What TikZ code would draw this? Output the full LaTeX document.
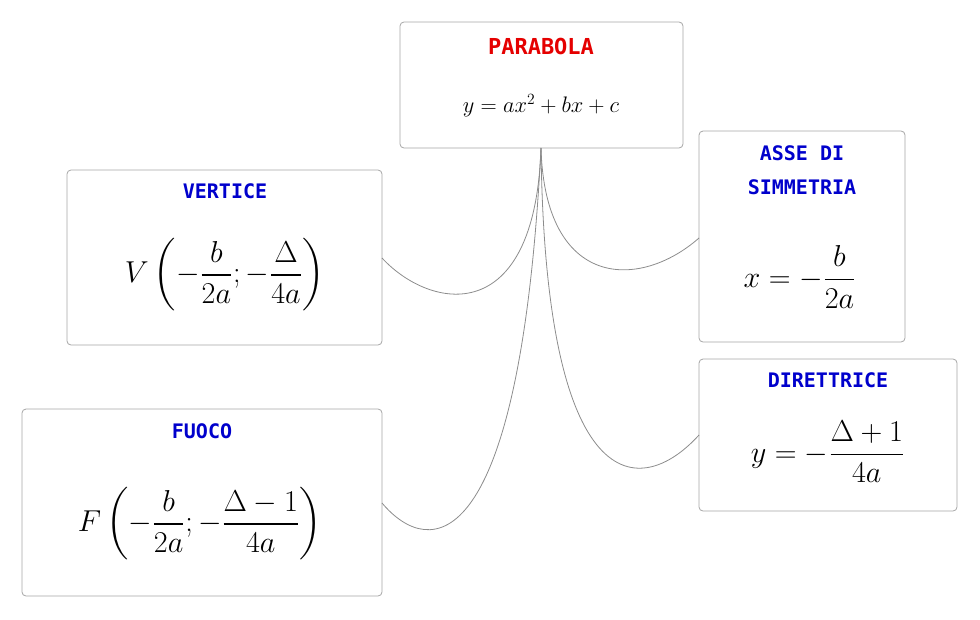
\documentclass[tikz,border=0pt]{standalone}
\usepackage{amsmath}
\usepackage{fontspec}
\newfontfamily\monob{DejaVu Sans Mono}[BoldFont={DejaVu Sans Mono Bold}]
\begin{document}
\begin{tikzpicture}[x=1pt,y=-1pt,
  card/.style={draw=black!35,rounded corners=4pt,line width=0.8pt,fill=white},
  ttl/.style={font=\fontsize{20}{34}\monob\bfseries,text=blue!80!black},
  conn/.style={draw=black!45,line width=0.8pt}]
\useasboundingbox (0,0) rectangle (980,619);
% boxes
\path[card] (400,22) rectangle (683,148);
\path[card] (67,170) rectangle (382,345);
\path[card] (699,131) rectangle (905,342);
\path[card] (699,359) rectangle (957,511);
\path[card] (22,409) rectangle (382,596);
\coordinate (p) at (541,148);
\coordinate (v) at (382,258);
\coordinate (a) at (699,238);
\coordinate (d) at (699,435);
\coordinate (f) at (382,503);
\draw[conn] (p) .. controls (535,330) and (430,310) .. (v);
\draw[conn] (p) .. controls (545,290) and (640,290) .. (a);
\draw[conn] (p) .. controls (545,500) and (640,500) .. (d);
\draw[conn] (p) .. controls (520,560) and (430,560) .. (f);
% texts
\node[font=\fontsize{22}{28}\monob\bfseries,text=red!90!black] (pt) at (541,46) {PARABOLA};
\node[font=\LARGE] (pm) at (541,106) {\scalebox{1.3}{$y=ax^2+bx+c$}};
\node[ttl] (vt) at (225,191) {VERTICE};
\node[font=\LARGE] (vm) at (225,275) {\scalebox{1.75}{$V\left(-\dfrac{b}{2a};-\dfrac{\Delta}{4a}\right)$}};
\node[ttl,align=center] (at) at (802,170) {ASSE DI\\SIMMETRIA};
\node[font=\LARGE] (am) at (800,277) {\scalebox{1.75}{$x=-\dfrac{b}{2a}$}};
\node[ttl] (dt) at (828,380) {DIRETTRICE};
\node[font=\LARGE] (dm) at (828,452) {\scalebox{1.75}{$y=-\dfrac{\Delta+1}{4a}$}};
\node[ttl] (ft) at (202,431) {FUOCO};
\node[font=\LARGE] (fm) at (200,524) {\scalebox{1.75}{$F\left(-\dfrac{b}{2a};-\dfrac{\Delta-1}{4a}\right)$}};
\end{tikzpicture}
\end{document}
